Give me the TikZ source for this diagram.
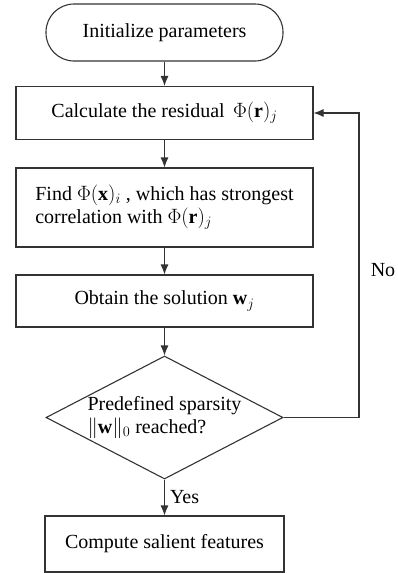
\documentclass[tikz,border=0pt]{standalone}
\usepackage{fontspec}
\setmainfont{Liberation Serif}
\usetikzlibrary{shapes.geometric,arrows.meta}

\begin{document}
\begin{tikzpicture}[x=1pt,y=-1pt,
   every node/.style={font=\fontsize{20}{23}\selectfont},
   term/.style={draw=black!80,line width=1.1pt,rounded corners=28pt,
                minimum width=237pt,minimum height=57pt},
   proc/.style={draw=black!80,line width=1.1pt,minimum width=297pt,inner sep=0pt},
   decide/.style={draw=black!80,line width=1.1pt,diamond,align=left,inner sep=-20pt,
                minimum width=237pt,minimum height=123pt},
   flow/.style={draw=black!80,line width=1.1pt,-{Latex[length=10pt,width=8pt]}}]
   \useasboundingbox (0,0) rectangle (398,573);
   \node[term] (init) at (164.5,32.5) {Initialize parameters};
   \node[proc,minimum height=53pt] (resid) at (164.5,113)
        {Calculate the residual \,$\Phi(\mathbf{r})_j$};
   \node[proc,minimum height=79pt,align=left] (corr) at (164.5,207.5)
        {Find $\Phi(\mathbf{x})_i$ , which has strongest\\correlation with $\Phi(\mathbf{r})_j$};
   \node[proc,minimum height=52pt] (solve) at (164.5,301) {Obtain the solution $\mathbf{w}_j$};
   \node[decide] (check) at (164.5,417.5)
        {Predefined sparsity\\$\|\mathbf{w}\|_0$ reached?};
   \node[proc,minimum width=239pt,minimum height=56pt] (feat) at (164.5,544)
        {Compute salient features};
   \coordinate (turn) at (359,417.5);
   \draw[flow] (init) -- (resid);
   \draw[flow] (resid) -- (corr);
   \draw[flow] (corr) -- (solve);
   \draw[flow] (solve) -- (check);
   \draw[flow] (check) -- node[right,inner sep=5pt] {Yes} (feat);
   \draw[flow] (check.east) -- (turn) |- (resid.east);
   \node (no) at (383,270) {No};
\end{tikzpicture}
\end{document}
